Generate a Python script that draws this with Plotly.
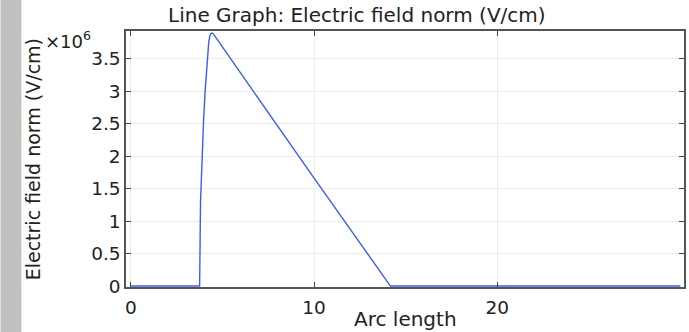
import plotly.graph_objects as go

# Data (arc length, electric field norm in V/cm)
arc_length = [0, 3.75, 3.80, 3.90, 3.97, 4.05, 4.11, 4.15, 4.20, 4.25, 4.30, 4.36, 4.42, 4.48, 4.56, 4.70, 6.43, 10.0, 14.17, 20.0, 30.0]
e_field = [0, 0, 1.30e6, 2.20e6, 2.57e6, 3.00e6, 3.26e6, 3.48e6, 3.65e6, 3.76e6, 3.84e6, 3.885e6, 3.895e6, 3.885e6, 3.855e6, 3.80e6, 3.10e6, 1.66e6, 0, 0, 0]

y_tick_vals = [0, 0.5e6, 1.0e6, 1.5e6, 2.0e6, 2.5e6, 3.0e6, 3.5e6]
y_tick_text = ["0", "0.5", "1", "1.5", "2", "2.5", "3", "3.5"]
x_tick_vals = [0, 10, 20]
x_tick_text = ["0", "10", "20"]

FONT = "DejaVu Sans"
TXT = "#222222"

fig = go.Figure()
fig.add_trace(go.Scatter(x=arc_length, y=e_field, mode="lines",
                         line=dict(color="#3a5cff", width=1.4),
                         showlegend=False, hoverinfo="skip"))

W, H = 689, 332
ml, mr, mt, mb = 126, 3, 31, 45
pw = W - ml - mr

fig.update_layout(
    width=W, height=H,
    margin=dict(l=ml, r=mr, t=mt, b=mb),
    paper_bgcolor="white", plot_bgcolor="white",
    font=dict(family=FONT, size=18.5, color=TXT),
    xaxis=dict(range=[-0.27, 30.2], tickvals=x_tick_vals, ticktext=x_tick_text,
               ticks="inside", ticklen=5, tickcolor="#444", mirror="ticks",
               showline=True, linecolor="#555", linewidth=1.5, ticklabelstandoff=3,
               showgrid=True, gridcolor="#ececec", gridwidth=1, zeroline=False,
               tickfont=dict(size=18.5, family=FONT, color=TXT)),
    yaxis=dict(range=[-0.015e6, 3.926e6], tickvals=y_tick_vals, ticktext=y_tick_text,
               ticks="inside", ticklen=5, tickcolor="#444", mirror="ticks",
               showline=True, linecolor="#555", linewidth=1.5,
               showgrid=True, gridcolor="#ececec", gridwidth=1, zeroline=False,
               tickfont=dict(size=18.5, family=FONT, color=TXT)),
    shapes=[dict(type="rect", xref="paper", yref="paper",
                 x0=(0 - ml) / pw, x1=(21 - ml) / pw, y0=-1, y1=2,
                 fillcolor="#c0c0c0", line=dict(width=0), layer="below")],
    annotations=[
        dict(text="Line Graph: Electric field norm (V/cm)", xref="paper", yref="paper",
             x=(357.5 - ml) / pw, y=1, yshift=2, xanchor="center", yanchor="bottom", showarrow=False,
             font=dict(size=20, family=FONT, color=TXT)),
        dict(text="Arc length", xref="paper", yref="paper", x=0.5, y=0, yshift=-18,
             xanchor="center", yanchor="top", showarrow=False,
             font=dict(size=20, family=FONT, color=TXT)),
        dict(text="Electric field norm (V/cm)", xref="paper", yref="paper",
             x=(33 - ml) / pw, y=0.5, xanchor="center", yanchor="middle", textangle=-90,
             showarrow=False, font=dict(size=19, family=FONT, color=TXT)),
        dict(text="×10<sup>6</sup>", xref="paper", yref="paper",
             x=(43 - ml) / pw, y=1, yshift=-23, xanchor="left", yanchor="bottom",
             showarrow=False, font=dict(size=18, family=FONT, color=TXT)),
    ],
)

fig.write_html("out.html")
